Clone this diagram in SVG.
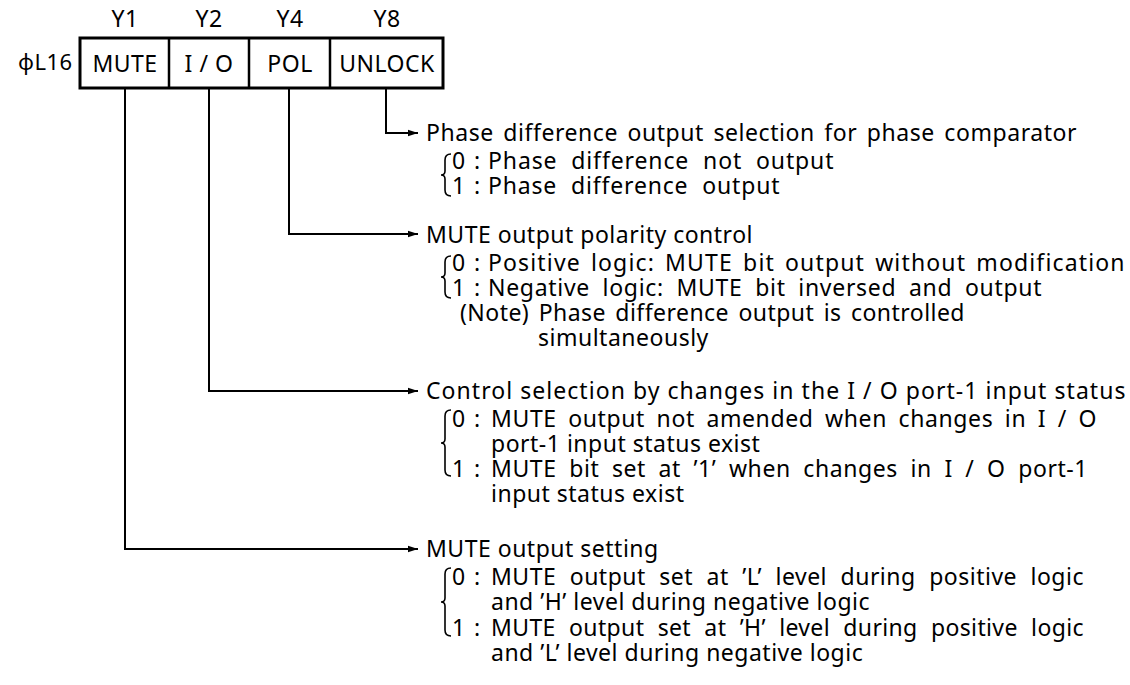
<svg xmlns="http://www.w3.org/2000/svg" width="1130" height="685" viewBox="0 0 1130 685">
<style>
text{font-family:"Noto Sans","Open Sans","DejaVu Sans",sans-serif;font-size:23px;letter-spacing:0.5px;fill:#000}
.ln{fill:none;stroke:#000;stroke-width:2}
.br{fill:none;stroke:#000;stroke-width:1.6}
</style>
<defs>
<marker id="ah" viewBox="0 0 10 8" refX="10" refY="4" markerWidth="10" markerHeight="8" markerUnits="userSpaceOnUse" orient="auto">
<path d="M0,0.8 L10,4 L0,7.2 z" fill="#000"/>
</marker>
</defs>
<rect width="1130" height="685" fill="#fff"/>
<g id="register">
<text x="18" y="70" style="font-size:22px">ϕL16</text>
<rect x="80" y="38" width="363" height="50" fill="none" stroke="#000" stroke-width="3"/>
<line x1="169" y1="38" x2="169" y2="88" stroke="#000" stroke-width="2.5"/>
<line x1="249" y1="38" x2="249" y2="88" stroke="#000" stroke-width="2.5"/>
<line x1="330" y1="38" x2="330" y2="88" stroke="#000" stroke-width="2.5"/>
<g text-anchor="middle">
<text x="125" y="27">Y1</text>
<text x="209" y="27">Y2</text>
<text x="290" y="27">Y4</text>
<text x="387" y="27">Y8</text>
<text x="125" y="72">MUTE</text>
<text x="209" y="72">I / O</text>
<text x="290" y="72">POL</text>
<text x="387" y="72">UNLOCK</text>
</g>
</g>
<g id="connectors">
<path class="ln" d="M386,88 V133 H418" marker-end="url(#ah)"/>
<path class="ln" d="M289,88 V234 H418" marker-end="url(#ah)"/>
<path class="ln" d="M209,88 V391 H418" marker-end="url(#ah)"/>
<path class="ln" d="M125,88 V549 H418" marker-end="url(#ah)"/>
</g>
<g id="unlock-desc">
<text x="426" y="141" style="word-spacing:3px" textLength="651" lengthAdjust="spacing">Phase difference output selection for phase comparator</text>
<path class="br" d="M451,154 Q445,154 445,160 V171 Q445,175 441,175 Q445,175 445,179 V190 Q445,196 451,196"/>
<text y="169"><tspan x="452">0</tspan><tspan x="474">:</tspan><tspan x="488" style="word-spacing:7px" textLength="346" lengthAdjust="spacing">Phase difference not output</tspan></text>
<text y="194"><tspan x="452">1</tspan><tspan x="474">:</tspan><tspan x="488" style="word-spacing:7px" textLength="292" lengthAdjust="spacing">Phase difference output</tspan></text>
</g>
<g id="pol-desc">
<text x="426" y="243">MUTE output polarity control</text>
<path class="br" d="M451,256 Q445,256 445,262 V273 Q445,277 441,277 Q445,277 445,281 V292 Q445,298 451,298"/>
<text y="271"><tspan x="452">0</tspan><tspan x="474">:</tspan><tspan x="488" style="word-spacing:3px" textLength="637" lengthAdjust="spacing">Positive logic: MUTE bit output without modification</tspan></text>
<text y="296"><tspan x="452">1</tspan><tspan x="474">:</tspan><tspan x="488" style="word-spacing:6px" textLength="554" lengthAdjust="spacing">Negative logic: MUTE bit inversed and output</tspan></text>
<text x="460" y="321" style="word-spacing:3px" textLength="505" lengthAdjust="spacing">(Note) Phase difference output is controlled</text>
<text x="538" y="346">simultaneously</text>
</g>
<g id="io-desc">
<text x="426" y="399" textLength="700" lengthAdjust="spacing">Control selection by changes in the I / O port-1 input status</text>
<path class="br" d="M451,410 Q445,410 445,416 V439 Q445,443 441,443 Q445,443 445,447 V470 Q445,476 451,476"/>
<text y="427"><tspan x="452">0</tspan><tspan x="474">:</tspan><tspan x="491" style="word-spacing:5px" textLength="606" lengthAdjust="spacing">MUTE output not amended when changes in I / O</tspan></text>
<text x="491" y="452">port-1 input status exist</text>
<text y="477"><tspan x="452">1</tspan><tspan x="474">:</tspan><tspan x="491" style="word-spacing:6px" textLength="597" lengthAdjust="spacing">MUTE bit set at ’1’ when changes in I / O port-1</tspan></text>
<text x="491" y="502">input status exist</text>
</g>
<g id="mute-desc">
<text x="426" y="557">MUTE output setting</text>
<path class="br" d="M451,568 Q445,568 445,574 V598 Q445,602 441,602 Q445,602 445,606 V630 Q445,636 451,636"/>
<text y="585"><tspan x="452">0</tspan><tspan x="474">:</tspan><tspan x="491" style="word-spacing:7px" textLength="593" lengthAdjust="spacing">MUTE output set at ’L’ level during positive logic</tspan></text>
<text x="491" y="610">and ’H’ level during negative logic</text>
<text y="636"><tspan x="452">1</tspan><tspan x="474">:</tspan><tspan x="491" style="word-spacing:7px" textLength="593" lengthAdjust="spacing">MUTE output set at ’H’ level during positive logic</tspan></text>
<text x="491" y="661">and ’L’ level during negative logic</text>
</g>
</svg>
